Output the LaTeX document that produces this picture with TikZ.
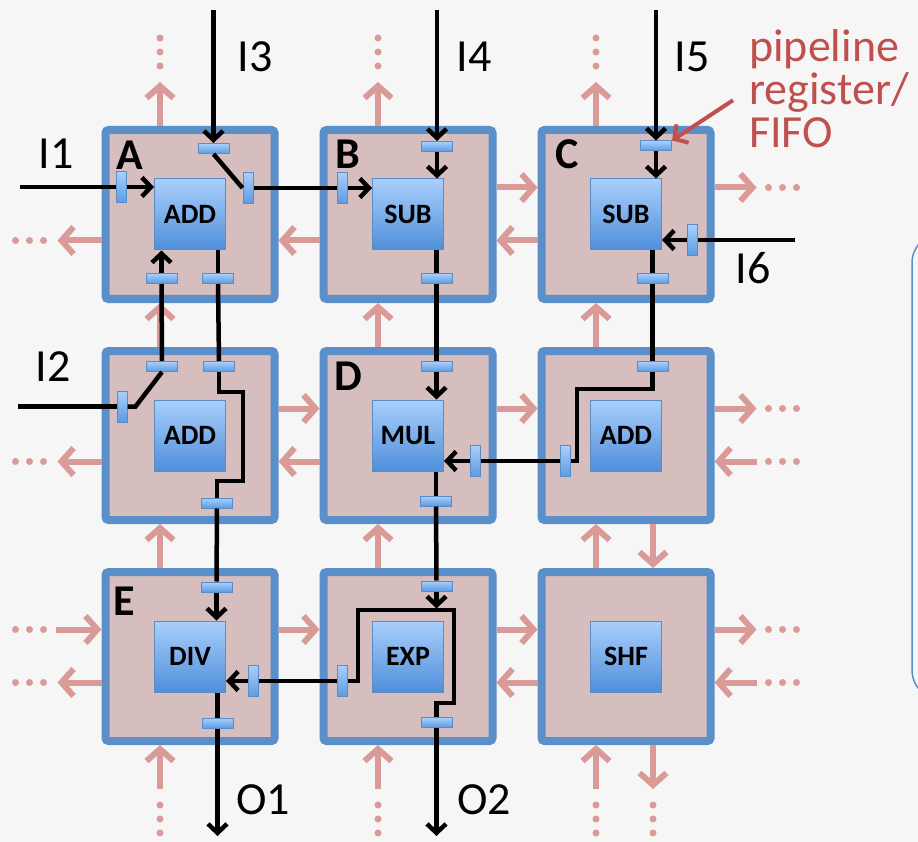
\documentclass[tikz,border=0pt]{standalone}
\usepackage{fontspec}
\setmainfont{Carlito}
\usetikzlibrary{arrows.meta,positioning,calc}
\definecolor{Bg}{HTML}{F6F6F6}
\definecolor{TileFill}{HTML}{D6BEBE}
\definecolor{TileLine}{HTML}{5B8FC9}
\definecolor{Link}{HTML}{D99A98}
\definecolor{FuTop}{HTML}{A9CFFB}
\definecolor{FuBot}{HTML}{4F8FDA}
\definecolor{FuLine}{HTML}{5A8CC6}
\definecolor{RegTop}{HTML}{A9CFFB}
\definecolor{RegBot}{HTML}{5C9BE2}
\definecolor{Note}{HTML}{C0504D}
\tikzset{
  tile/.style={draw=TileLine, line width=8pt, fill=TileFill, rounded corners=3pt,
               minimum size=169pt, inner sep=0pt},
  fu/.style={draw=FuLine, line width=1pt, top color=FuTop, bottom color=FuBot,
             minimum size=71pt, inner sep=0pt, font=\bfseries\fontsize{28}{30}\selectfont},
  hreg/.style={draw=FuLine, line width=1pt, top color=RegTop, bottom color=RegBot,
               minimum width=31pt, minimum height=10pt, inner sep=0pt},
  vreg/.style={hreg, minimum width=10pt, minimum height=31pt},
  link/.style={line width=6pt, draw=Link, -{Straight Barb[length=12pt,width=27pt]}},
  wire/.style={line width=4.5pt, draw=black},
  wirein/.style={wire, -{Straight Barb[length=9pt,width=19pt]}},
  notearrow/.style={line width=4pt, draw=Note, -{Straight Barb[length=10pt,width=22pt]}},
  tag/.style={font=\bfseries\fontsize{44}{44}\selectfont, inner sep=0pt},
  io/.style={font=\fontsize{46}{46}\selectfont, inner sep=0pt},
  note/.style={text=Note, align=left, font=\fontsize{46}{43}\selectfont, inner sep=0pt},
}
\begin{document}
\begin{tikzpicture}[x=1pt, y=-1pt, node distance=44pt and 41pt]
  \path[use as bounding box, fill=Bg] (0,0) rectangle (918,842);
  \clip (0,0) rectangle (918,842);
  \draw[TileLine, line width=1.5pt, rounded corners=30pt] (912,233) rectangle (990,700);

  % tiles
  \node[tile] (tA) at (190,214.5) {};
  \node[tile, right=of tA] (tB) {};
  \node[tile, right=of tB] (tC) {};
  \node[tile, below=of tA] (tG) {};
  \node[tile, right=of tG] (tD) {};
  \node[tile, right=of tD] (tF) {};
  \node[tile, below=of tG] (tE) {};
  \node[tile, right=of tE] (tH) {};
  \node[tile, right=of tH] (tI) {};

  % mesh links
  \foreach \t in {tA,tB,tC}{
    \draw[link] ([xshift=-30pt]\t.north) -- ++(0,-44);
    \foreach \d in {60,74,88}
      \fill[Link] ([xshift=-30pt,yshift=\d pt]\t.north) circle (3.5pt);
  }
  \foreach \t in {tE,tH,tI}{
    \draw[link] ([xshift=-30pt,yshift=-44pt]\t.south) -- ([xshift=-30pt]\t.south);
    \foreach \d in {60,74,88}
      \fill[Link] ([xshift=-30pt,yshift=-\d pt]\t.south) circle (3.5pt);
  }
  \draw[link] ([xshift=27pt]tI.south) -- ++(0,44);
  \foreach \d in {60,74,88}
    \fill[Link] ([xshift=27pt,yshift=-\d pt]tI.south) circle (3.5pt);
  \foreach \lo/\hi in {tG/tA,tD/tB,tF/tC,tE/tG,tH/tD,tI/tF}
    \draw[link] ([xshift=-30pt]\lo.north) -- ([xshift=-30pt]\hi.south);
  \draw[link] ([xshift=27pt]tF.south) -- ([xshift=27pt]tI.north);
  \foreach \l/\r in {tB/tC,tG/tD,tD/tF,tE/tH,tH/tI}
    \draw[link] ([yshift=27pt]\l.east) -- ([yshift=27pt]\r.west);
  \foreach \l/\r in {tA/tB,tB/tC,tG/tD,tH/tI}
    \draw[link] ([yshift=-26pt]\r.west) -- ([yshift=-26pt]\l.east);
  \foreach \t in {tA,tG,tE}{
    \draw[link] ([yshift=-26pt]\t.west) -- ++(-44,0);
    \foreach \d in {58,72,86}
      \fill[Link] ([xshift=-\d pt,yshift=-26pt]\t.west) circle (3.5pt);
  }
  \draw[link] ([xshift=-46pt,yshift=27pt]tE.west) -- ([yshift=27pt]tE.west);
  \foreach \d in {58,72,86}
    \fill[Link] ([xshift=-\d pt,yshift=27pt]tE.west) circle (3.5pt);
  \foreach \t in {tC,tF,tI}{
    \draw[link] ([yshift=27pt]\t.east) -- ++(42,0);
    \foreach \d in {54,68,82}
      \fill[Link] ([xshift=\d pt,yshift=27pt]\t.east) circle (3.5pt);
  }
  \foreach \t in {tF,tI}{
    \draw[link] ([xshift=42pt,yshift=-26pt]\t.east) -- ([yshift=-26pt]\t.east);
    \foreach \d in {54,68,82}
      \fill[Link] ([xshift=\d pt,yshift=-26pt]\t.east) circle (3.5pt);
  }

  % function units
  \node[fu] (fuA) at (tA) {ADD};
  \node[fu] (fuB) at (tB) {SUB};
  \node[fu] (fuC) at (tC) {SUB};
  \node[fu] (fuG) at (tG) {ADD};
  \node[fu] (fuD) at (tD) {MUL};
  \node[fu] (fuF) at (tF) {ADD};
  \node[fu] (fuE) at (tE) {DIV};
  \node[fu] (fuH) at (tH) {EXP};
  \node[fu] (fuI) at (tI) {SHF};

  \node[tag] (lA) at (130,155) {A};
  \node[tag] (lB) at (348,154) {B};
  \node[tag] (lC) at (567,154) {C};
  \node[tag] (lD) at (348,376) {D};
  \node[tag] (lE) at (124,601) {E};

  % pipeline registers
  \node[vreg] (rAw) at (121,187) {};
  \node[hreg] (rAn) at (213.5,148.5) {};
  \node[vreg] (rAe) at (248,188) {};
  \node[hreg] (rAs1) at (161.5,278.5) {};
  \node[hreg] (rAs2) at (218,278.5) {};
  \node[vreg] (rBw) at (342,188) {};
  \node[hreg] (rBn) at (437,146.5) {};
  \node[hreg] (rBs) at (436.5,278.5) {};
  \node[hreg] (rCn) at (656,146) {};
  \node[vreg] (rCe) at (692,240) {};
  \node[hreg] (rCs) at (652.5,278.5) {};
  \node[vreg] (rGw) at (122,406.5) {};
  \node[hreg] (rGn1) at (162,366.5) {};
  \node[hreg] (rGn2) at (219,366.5) {};
  \node[hreg] (rGs) at (217,503) {};
  \node[hreg] (rDn) at (436.5,366.5) {};
  \node[vreg] (rDe) at (475,461) {};
  \node[hreg] (rDs) at (436,501) {};
  \node[vreg] (rFw) at (565,461) {};
  \node[hreg] (rFn) at (652.5,366.5) {};
  \node[hreg] (rEn) at (216.5,587) {};
  \node[vreg] (rEe) at (253,681) {};
  \node[hreg] (rEs) at (217.5,723) {};
  \node[hreg] (rHn) at (436.5,586) {};
  \node[vreg] (rHw) at (342.5,681) {};
  \node[hreg] (rHs) at (436.5,722.5) {};

  % inputs and outputs
  \coordinate (in1) at (20,187);
  \coordinate (in2) at (18,406.5);
  \coordinate (in3) at (213.5,10);
  \coordinate (in4) at (437,10);
  \coordinate (in5) at (656,10);
  \coordinate (in6) at (795,240);
  \coordinate (out1) at (217.5,836);
  \coordinate (out2) at (436.5,836);
  \node[io] (lI1) at (56,154) {I1};
  \node[io] (lI2) at (53,367) {I2};
  \node[io] (lI3) at (255,57) {I3};
  \node[io] (lI4) at (474,57) {I4};
  \node[io] (lI5) at (692,57) {I5};
  \node[io] (lI6) at (753,268) {I6};
  \node[io] (lO1) at (263,800) {O1};
  \node[io] (lO2) at (484,800) {O2};

  % routed data paths
  \draw[wire] (in1) -- (rAw.west);
  \draw[wirein] (rAw.east) -- (rAw -| fuA.west);
  \draw[wirein] (in3) -- (rAn.north);
  \draw[wire] (rAn.south) -- (rAe.west);
  \draw[wire] (rAe.east) -- (rBw.west);
  \draw[wirein] (rBw.east) -- (rBw -| fuB.west);
  \draw[wire] (in2) -- (rGw.west);
  \draw[wire] (rGw.east) -- ++(8,0) -- (rGn1.south);
  \draw[wire] (rGn1.north) -- (rAs1.south);
  \draw[wirein] (rAs1.north) -- (rAs1 |- fuA.south);
  \draw[wire] (rAs2 |- fuA.south) -- (rAs2.north);
  \draw[wire] (rAs2.south) -- (rGn2.north);
  \draw[wire] (rGn2.south) -- ++(0,20) -- ++(24,0) -- ++(0,89) -| (rGs.north);
  \draw[wire] (rGs.south) -- (rEn.north);
  \draw[wirein] (rEn.south) -- (rEn |- fuE.north);
  \draw[wire] (rEs |- fuE.south) -- (rEs.north);
  \draw[wirein] (rEs.south) -- (out1);
  \draw[wirein] (in4) -- (rBn.north);
  \draw[wirein] (rBn.south) -- (rBn |- fuB.north);
  \draw[wire] (rBs |- fuB.south) -- (rBs.north);
  \draw[wire] (rBs.south) -- (rDn.north);
  \draw[wirein] (rDn.south) -- (rDn |- fuD.north);
  \draw[wirein] (in5) -- (rCn.north);
  \draw[wirein] (rCn.south) -- (rCn |- fuC.north);
  \draw[wire] (in6) -- (rCe.east);
  \draw[wirein] (rCe.west) -- (rCe -| fuC.east);
  \draw[wire] (rCs |- fuC.south) -- (rCs.north);
  \draw[wire] (rCs.south) -- (rFn.north);
  \draw[wire] (rFn.south) -- ++(0,17) -- ++(-75.5,0) |- (rFw.east);
  \draw[wire] (rFw.west) -- (rDe.east);
  \draw[wirein] (rDe.west) -- (rDe -| fuD.east);
  \draw[wire] (rDs |- fuD.south) -- (rDs.north);
  \draw[wire] (rDs.south) -- (rHn.north);
  \draw[wirein] (rHn.south) -- ++(0,17);
  \draw[wire] (rHw.east) -- ++(10,0) -- ++(0,-71) -- ++(96,0) -- ++(0,93) -| (rHs.north);
  \draw[wire] (rHw.west) -- (rEe.east);
  \draw[wirein] (rEe.west) -- (rEe -| fuE.east);
  \draw[wirein] (rHs.south) -- (out2);

  % callout
  \node[note, anchor=base west] (note) at (749,148) {pipeline\\register/\\FIFO};
  \draw[notearrow] ([xshift=-16pt,yshift=-11pt]note.west) -- (rCn.north east);
\end{tikzpicture}
\end{document}
